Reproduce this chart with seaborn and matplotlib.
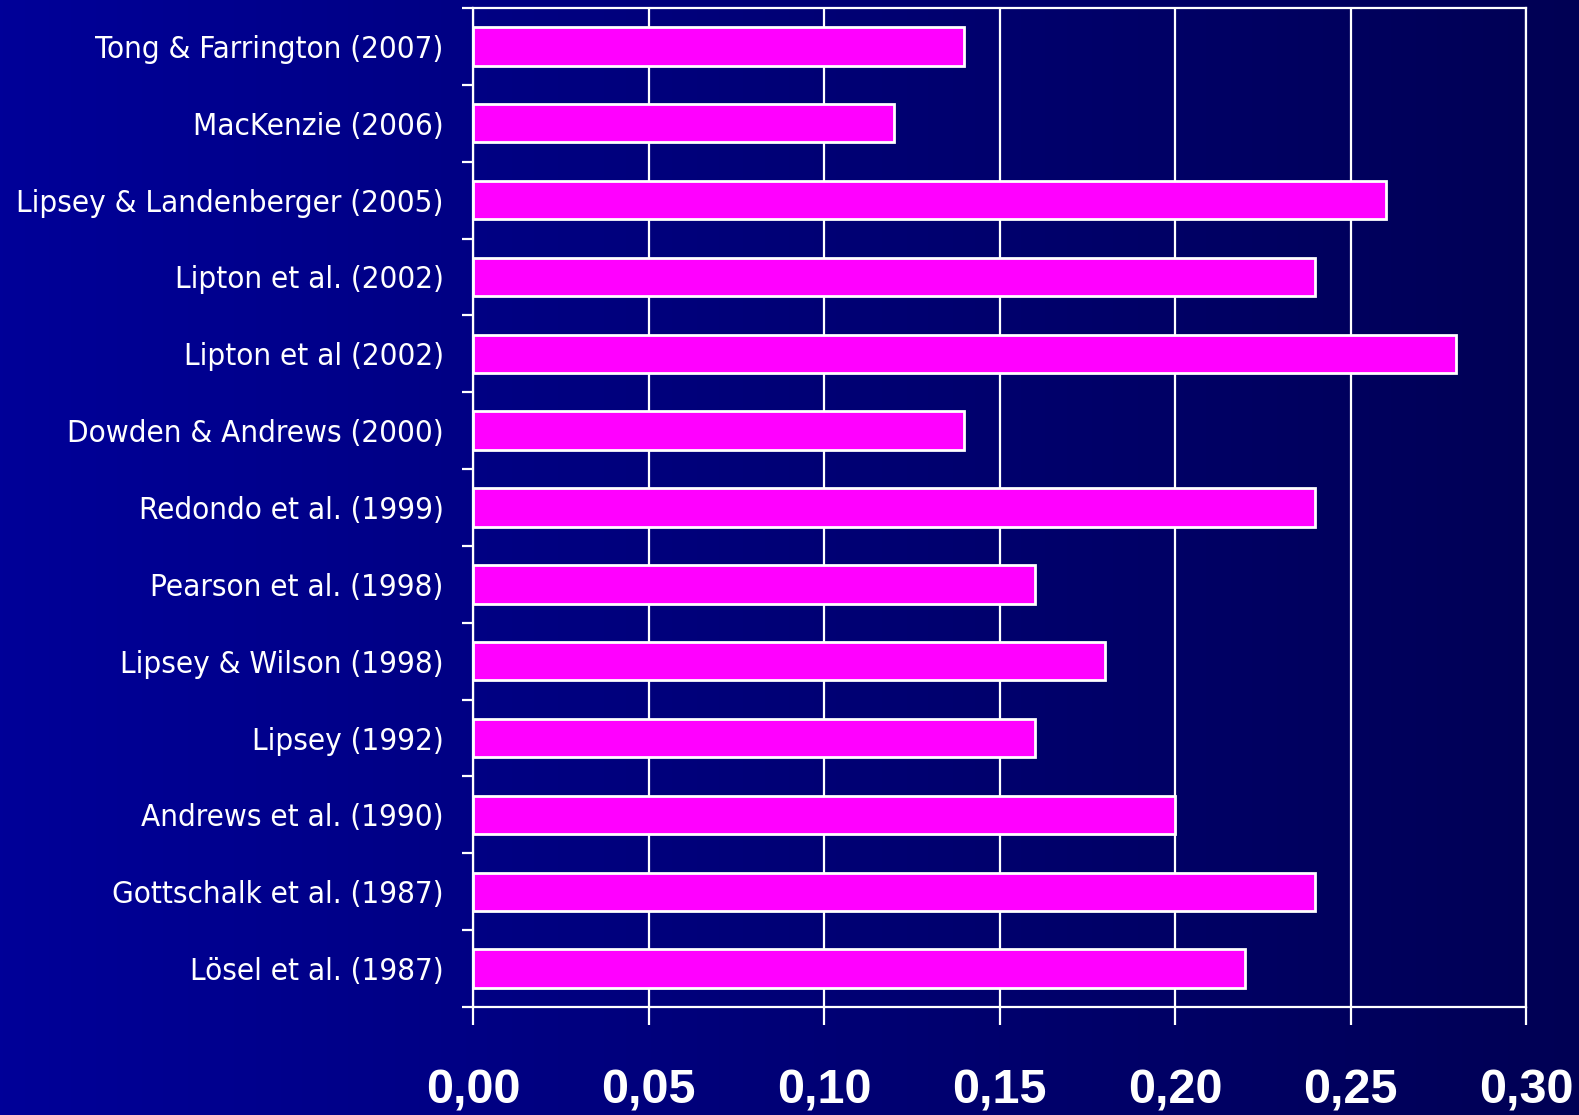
import numpy as np
import pandas as pd
import matplotlib
matplotlib.use("Agg")
import matplotlib.pyplot as plt
from matplotlib.ticker import FixedLocator, FuncFormatter
import seaborn as sns

studies = [
    "Tong & Farrington (2007)",
    "MacKenzie (2006)",
    "Lipsey & Landenberger (2005)",
    "Lipton et al. (2002)",
    "Lipton et al (2002)",
    "Dowden & Andrews (2000)",
    "Redondo et al. (1999)",
    "Pearson et al. (1998)",
    "Lipsey & Wilson (1998)",
    "Lipsey (1992)",
    "Andrews et al. (1990)",
    "Gottschalk et al. (1987)",
    "Lösel et al. (1987)",
]
effect_sizes = [0.14, 0.12, 0.26, 0.24, 0.28, 0.14, 0.24, 0.16, 0.18, 0.16, 0.20, 0.24, 0.22]
x_ticks = [0.00, 0.05, 0.10, 0.15, 0.20, 0.25, 0.30]

df = pd.DataFrame({"study": studies, "effect": effect_sizes})

sns.set_theme(style="white")
W, H = 1579, 1115
fig = plt.figure(figsize=(W / 100, H / 100), dpi=100)

# horizontal blue gradient behind everything
bg = fig.add_axes([0, 0, 1, 1], zorder=-10)
grad = np.linspace(0, 1, 512)
left_c = np.array([0, 0, 152]) / 255
right_c = np.array([0, 0, 84]) / 255
img = left_c[None, :] * (1 - grad[:, None]) + right_c[None, :] * grad[:, None]
bg.imshow(img[None, :, :], aspect="auto", extent=[0, 1, 0, 1])
bg.set_axis_off()

ax = fig.add_axes([473 / W, 108 / H, (1526 - 473) / W, (1007 - 8) / H])
ax.set_facecolor("none")

sns.barplot(data=df, x="effect", y="study", orient="h", color="#FF00FF",
            edgecolor="white", linewidth=2, width=0.5, saturation=1, ax=ax, zorder=3)

ax.set_xlim(0, 0.30)
ax.set_ylim(len(studies) - 0.5, -0.5)
ax.set_xticks(x_ticks)
ax.xaxis.set_major_formatter(FuncFormatter(lambda v, p: f"{v:.2f}".replace(".", ",")))
ax.grid(axis="x", color="white", linewidth=1.6, zorder=0)
ax.set_axisbelow(True)
for s in ax.spines.values():
    s.set_color("white")
    s.set_linewidth(1.6)
ax.set_xlabel("")
ax.set_ylabel("")

# category separators as minor ticks on the y axis
ax.yaxis.set_minor_locator(FixedLocator(np.arange(-0.5, len(studies), 1.0)))
ax.tick_params(axis="y", which="major", length=0, pad=21, labelcolor="white")
ax.tick_params(axis="y", which="minor", length=8, width=1.6, color="white", left=True)
ax.tick_params(axis="x", which="major", length=13, width=1.6, color="white",
               bottom=True, pad=31, labelcolor="white")

for lab in ax.get_yticklabels():
    lab.set_fontfamily("DejaVu Sans")
    lab.set_fontstretch("condensed")
    lab.set_fontsize(22.5)
    lab.set_va("center_baseline")
for lab in ax.get_xticklabels():
    lab.set_fontfamily("Liberation Sans")
    lab.set_fontweight("bold")
    lab.set_fontsize(35)

fig.savefig("out.png", dpi=100)
